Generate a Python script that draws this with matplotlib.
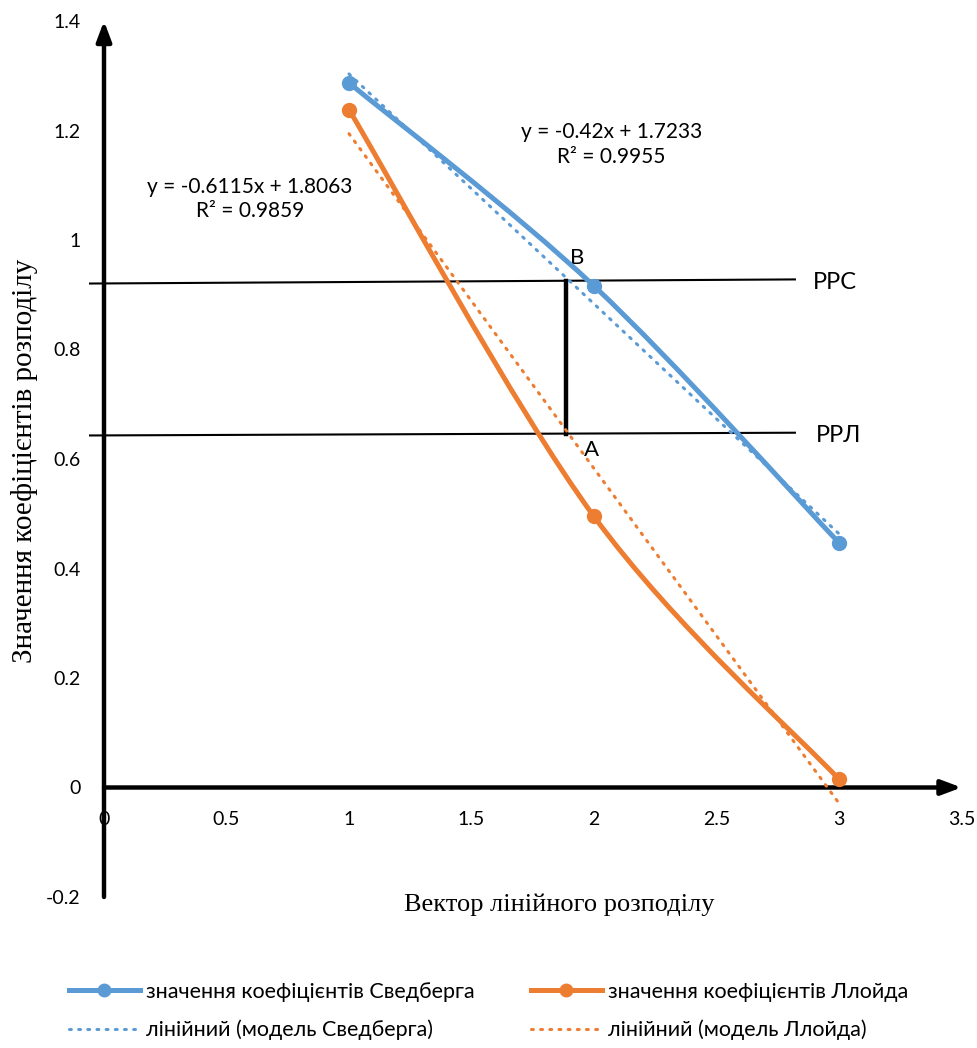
import numpy as np
import matplotlib.pyplot as plt
from matplotlib.path import Path
from matplotlib.patches import PathPatch
from matplotlib.lines import Line2D

# data
x_vals = [1, 2, 3]
svedberg = [1.287, 0.916, 0.447]
lloyd = [1.238, 0.495, 0.015]
x_ticks = [0, 0.5, 1, 1.5, 2, 2.5, 3, 3.5]
y_ticks = [-0.2, 0, 0.2, 0.4, 0.6, 0.8, 1, 1.2, 1.4]
y_tick_labels = ['-0.2', '0', '0.2', '0.4', '0.6', '0.8', '1', '1.2', '1.4']

# levels drawn by hand on the chart
rrs_level = (0.9205, 0.928)
rrl_level = (0.643, 0.648)
level_x = (-0.057, 2.82)
vert_x = 1.886

BLUE = '#5B9BD5'
ORANGE = '#ED7D31'
plt.rcParams['font.family'] = ['Lato', 'DejaVu Sans']


def smooth_path(xs, ys):
    """Excel-like smoothed line (Catmull-Rom as cubic Bezier)."""
    pts = np.column_stack([xs, ys]).astype(float)
    ext = np.vstack([pts[0], pts, pts[-1]])
    verts = [pts[0]]
    codes = [Path.MOVETO]
    for i in range(1, len(ext) - 2):
        p0, p1, p2, p3 = ext[i - 1], ext[i], ext[i + 1], ext[i + 2]
        verts += [p1 + (p2 - p0) / 6, p2 - (p3 - p1) / 6, p2]
        codes += [Path.CURVE4] * 3
    return Path(verts, codes)


fig = plt.figure(figsize=(9.77, 10.48), dpi=100)
ax = fig.add_axes([104 / 977, 1 - 897 / 1048, 857.5 / 977, 876 / 1048])
ax.set_xlim(0, 3.5)
ax.set_ylim(-0.2, 1.4)
for s in ax.spines.values():
    s.set_visible(False)
ax.spines['bottom'].set_position(('data', 0))

ax.set_xticks(x_ticks)
ax.set_xticklabels([f'{t:g}' for t in x_ticks])
ax.set_yticks(y_ticks)
ax.set_yticklabels(y_tick_labels)
ax.tick_params(axis='both', length=0, labelsize=14)
ax.tick_params(axis='x', pad=17)
ax.tick_params(axis='y', pad=17)

# axes arrows
ax.annotate('', xy=(0, 1.4), xytext=(0, -0.2),
            arrowprops=dict(arrowstyle='-|>,head_length=1.2,head_width=0.45', lw=3.2, color='black',
                            shrinkA=0, shrinkB=0), zorder=1)
ax.annotate('', xy=(3.5, 0), xytext=(0, 0),
            arrowprops=dict(arrowstyle='-|>,head_length=1.2,head_width=0.45', lw=3.2, color='black',
                            shrinkA=0, shrinkB=0), zorder=1)

# trend lines
xs = np.array(x_vals, dtype=float)
for ys, col in [(svedberg, BLUE), (lloyd, ORANGE)]:
    k, b = np.polyfit(xs, ys, 1)
    ax.plot(xs, k * xs + b, color=col, lw=2.2, linestyle=(0, (0.6, 2.4)),
            dash_capstyle='round', zorder=3, clip_on=False)

# smoothed series
for ys, col in [(svedberg, BLUE), (lloyd, ORANGE)]:
    ax.add_patch(PathPatch(smooth_path(xs, ys), facecolor='none', edgecolor=col,
                           lw=3.6, capstyle='round', zorder=4, clip_on=False))
    ax.plot(xs, ys, 'o', color=col, ms=10, zorder=5, clip_on=False)

# level lines
ax.plot(level_x, rrs_level, color='black', lw=1.5, zorder=2, clip_on=False)
ax.plot(level_x, rrl_level, color='black', lw=1.5, zorder=2, clip_on=False)
ax.plot([vert_x, vert_x], [np.mean(rrs_level), np.mean(rrl_level)], color='black', lw=3.2,
        zorder=2)

ax.text(2.895, 0.922, 'РРС', fontsize=17, va='center', ha='left')
ax.text(2.905, 0.643, 'РРЛ', fontsize=17, va='center', ha='left')
ax.text(1.93, 0.968, 'B', fontsize=16, va='center', ha='center')
ax.text(1.99, 0.617, 'A', fontsize=16, va='center', ha='center')

ax.text(0.595, 1.075, 'y = -0.6115x + 1.8063\nR² = 0.9859', fontsize=15, ha='center',
        va='center', linespacing=1.3)
ax.text(2.07, 1.175, 'y = -0.42x + 1.7233\nR² = 0.9955', fontsize=15, ha='center',
        va='center', linespacing=1.3)

fig.text(559 / 977, 1 - 905 / 1048, 'Вектор лінійного розподілу', family='Liberation Serif',
         fontsize=19, ha='center', va='center')
fig.text(25 / 977, 1 - 461 / 1048, 'Значення коефіцієнтів розподілу', family='Liberation Serif',
         fontsize=21, ha='center', va='center', rotation=90)

handles = [
    Line2D([], [], color=BLUE, lw=3.6, marker='o', ms=9),
    Line2D([], [], color=BLUE, lw=2.2, linestyle=(0, (0.6, 2.4)), dash_capstyle='round'),
    Line2D([], [], color=ORANGE, lw=3.6, marker='o', ms=9),
    Line2D([], [], color=ORANGE, lw=2.2, linestyle=(0, (0.6, 2.4)), dash_capstyle='round'),
]
labels = ['значення коефіцієнтів Сведберга', 'лінійний (модель Сведберга)',
          'значення коефіцієнтів Ллойда', 'лінійний (модель Ллойда)']
fig.legend(handles, labels, ncol=2, loc='center', bbox_to_anchor=(0.5, 1 - 1011 / 1048),
           frameon=False, fontsize=15.5, handlelength=3.3, handletextpad=0.3,
           columnspacing=2.6, labelspacing=0.85)

fig.savefig('out.png', dpi=100)
